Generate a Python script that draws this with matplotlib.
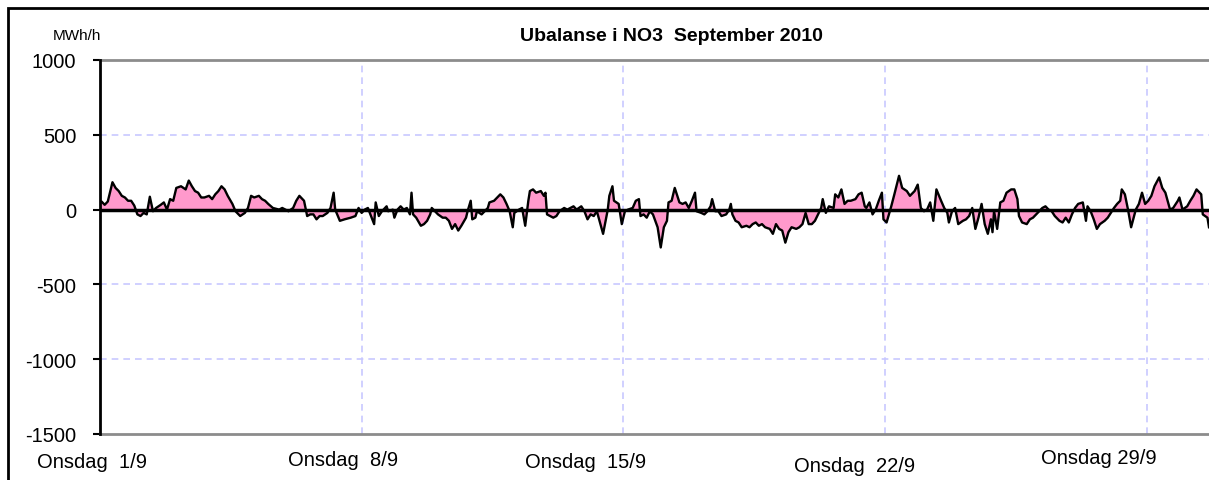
import matplotlib
matplotlib.use("Agg")
import matplotlib.pyplot as plt
from matplotlib.patches import Rectangle

# hourly imbalance NO3, September 2010 (hours since 1/9 00:00)
hours = [
    0, 1, 3, 5, 8, 10, 12, 14, 16, 18, 20, 22, 24, 26, 28, 30, 32, 34, 36, 39,
    41, 43, 45, 47, 49, 52, 55, 57, 59, 61, 63, 65, 67, 70, 72, 74, 76, 78, 80, 82,
    85, 87, 90, 93, 95, 97, 99, 102, 104, 106, 108, 111, 115, 117, 119, 121, 124, 126, 128, 131,
    133, 135, 137, 139, 141, 143, 146, 148, 150, 151, 154, 157, 161, 164, 166,
    168, 170, 172, 176, 177, 179, 181, 184, 185, 188, 189, 191, 193, 195, 197, 199, 200, 201, 203, 206,
    208, 210, 212, 213, 215, 217, 220, 222, 224, 226, 228, 230, 232, 235, 236, 238, 239, 241, 242, 245,
    247, 249, 250, 253, 255, 257, 259, 261, 263, 265, 266, 269, 271, 273, 275, 276, 278, 280, 283, 285,
    286, 287, 289, 291, 293, 295, 298, 300, 302, 304, 306, 309, 311, 313, 315, 317, 319, 321, 323, 326,
    327, 329, 330, 333,
    335, 337, 339, 342, 344, 346, 347, 349, 351, 353, 355, 358, 360, 362, 364, 365, 367, 369, 372, 374,
    376, 378, 380, 382, 383, 386, 388, 390, 392, 393, 395, 397, 399, 402, 404, 405, 406, 408, 410, 412,
    415, 417, 419, 421, 423, 425, 427, 430, 432, 434, 436, 438, 440, 442, 444, 447, 449, 451, 453, 455,
    457, 459, 461, 463, 464, 466, 468, 471, 472, 474, 476, 478, 480, 482, 485, 487, 489, 491, 492, 494,
    496, 498, 500, 502,
    503, 505, 508, 510, 513, 515, 518, 520, 523, 525, 527, 529, 531, 533, 535, 537, 540, 542, 544, 545,
    547, 549, 551, 554, 556, 558, 560, 562, 564, 566, 568, 570, 572, 573, 574, 576, 578, 580, 582, 585,
    587, 589, 590, 592, 595, 597, 599, 601, 603, 605, 607, 609, 611, 613, 616, 618, 620, 622, 624, 626,
    628, 631, 633, 634, 636, 638, 640, 642, 645, 647, 649, 651, 653, 655, 656, 658, 660, 662, 665, 667,
    669, 671, 673, 675, 677, 680, 682, 684, 687, 689, 692, 693, 695, 698, 700, 702, 704, 707, 708, 711,
    712,
]
mwh = [
    43, 54, 32, 54, 183, 145, 124, 92, 81, 59, 59, 27, -32, -43, -22, -32, 86, -11, 11, 32,
    48, 0, 70, 59, 145, 156, 135, 194, 156, 124, 113, 81, 81, 92, 70, 102, 124, 156, 135, 92,
    38, -11, -43, -22, 11, 92, 81, 92, 70, 59, 38, 11, 0, 11, 0, -11, 11, 59, 92, 59,
    -43, -32, -32, -65, -43, -43, -22, 11, 113, 0, -75, -65, -54, -43, 11,
    -22, 0, 11, -97, 48, -43, -11, 22, -11, 0, -54, 0, 22, 0, 11, -32, 113, -32, -54, -108,
    -97, -75, -32, 11, -11, -32, -54, -54, -75, -129, -97, -140, -108, -54, -11, 59, -65, -54, -11, -32,
    -11, 11, 48, 59, 81, 102, 81, 38, -11, -118, -22, 0, 11, -108, 59, 124, 135, 113, 124, 92,
    113, -32, -43, -54, -43, -11, 11, 0, 11, 22, 0, 22, -11, -65, -32, -43, -11, -86, -162, 0,
    92, 156, 59, 38,
    -97, -11, 0, 11, 59, 70, -43, -32, -54, -11, -32, -118, -253, -118, -75, 48, 59, 145, 48, 38,
    48, 11, 59, 113, -11, -22, -32, -11, 22, 70, -11, -11, -43, -32, 0, 38, -32, -75, -86, -118,
    -108, -118, -97, -86, -108, -97, -118, -129, -162, -97, -129, -140, -221, -151, -118, -129, -118, -97, -22, -97,
    -97, -75, -32, 11, 70, -22, 22, 11, 102, 81, 135, 38, 59, 59, 70, 102, 113, 22, 11, 48,
    -32, 0, 59, 113,
    -65, -86, 22, 102, 226, 145, 124, 92, 124, 167, 11, -11, 0, 48, -75, 135, 59, 11, -22, -86,
    -11, 11, -97, -75, -65, -43, 11, -129, -54, 38, -97, -162, -65, -151, -11, -129, 48, 59, 113, 135,
    135, 70, -43, -86, -97, -65, -54, -32, -11, 11, 22, 0, -11, -43, -75, -86, -54, -86, -32, 11,
    38, 48, -75, 22, -11, -65, -129, -97, -75, -54, -22, 11, 38, 59, 135, 102, 0, -118, 0, 38,
    113, 38, 59, 92, 156, 215, 145, 113, 0, 11, 59, 81, 0, 22, 59, 92, 135, 102, -32, -54,
    -118,
]

week_ticks = [0, 168, 336, 504, 672]
week_labels = ["Onsdag  1/9", "Onsdag  8/9", "Onsdag  15/9", "Onsdag  22/9", "Onsdag 29/9"]
y_ticks = [1000, 500, 0, -500, -1000, -1500]

W, H = 1209, 481
fig = plt.figure(figsize=(W / 100, H / 100), dpi=100)
ax = fig.add_axes([100 / W, 46 / H, 1109 / W, 374 / H])

ax.fill_between(hours, mwh, 0, color="#FF99CC", linewidth=0)
ax.plot(hours, mwh, color="black", linewidth=1.7)
ax.axhline(0, color="black", linewidth=2.5, zorder=3)

ax.set_xlim(0, 712)
ax.set_ylim(-1500, 1000)

# grid
for t in week_ticks[1:]:
    ax.axvline(t, color="#C8C8FF", linestyle=(0, (4, 3)), linewidth=1.2, zorder=0)
for v in [500, -500, -1000]:
    ax.axhline(v, color="#C8C8FF", linestyle=(0, (4, 3)), linewidth=1.2, zorder=0)
ax.axhline(1000, color="#8C8C8C", linewidth=2, clip_on=False)
ax.axhline(-1500, color="#8C8C8C", linewidth=2, clip_on=False)

for s in ["top", "right", "bottom"]:
    ax.spines[s].set_visible(False)
ax.spines["left"].set_linewidth(2)
ax.spines["left"].set_zorder(5)

ax.set_xticks([])
ax.set_yticks(y_ticks)
ax.set_yticklabels([str(v) for v in y_ticks], fontsize=14.5, family="Liberation Sans")
ax.tick_params(axis="y", direction="out", length=5, width=1.5, pad=12)

# x labels (Excel places them a bit unevenly)
label_px = [(92, 463), (343, 461), (586, 463), (855, 467), (1099, 458)]
for lab, (px, py) in zip(week_labels, label_px):
    fig.text(px / W, 1 - py / H, lab, ha="center", va="center", fontsize=14.5,
             family=["Liberation Sans Narrow", "Liberation Sans"])

fig.text(520 / W, 1 - 41 / H, "Ubalanse i NO3  September 2010", ha="left", va="baseline",
         fontsize=14, fontweight="bold", family="Liberation Sans")
fig.text(53 / W, 1 - 40 / H, "MWh/h", ha="left", va="baseline", fontsize=11,
         family="Liberation Sans")

# chart area border
fig.add_artist(Rectangle((8 / W, -0.2), 1.2, 1.2 - 9 / H, transform=fig.transFigure,
                         fill=False, edgecolor="black", linewidth=2))

fig.savefig("out.png", dpi=100)
